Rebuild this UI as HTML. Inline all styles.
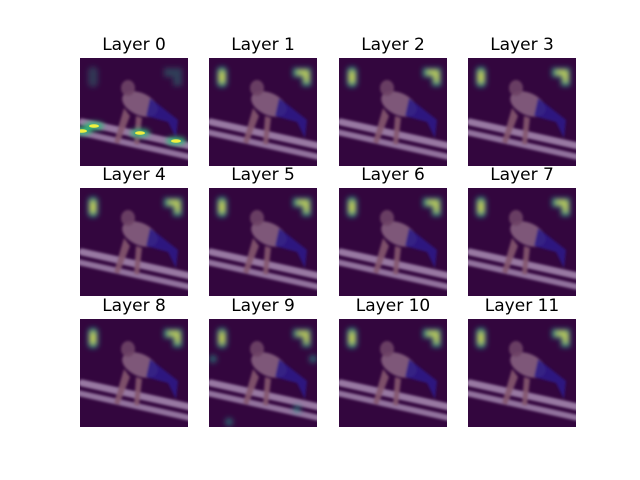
<!DOCTYPE html>
<html><head><meta charset="utf-8"><style>
html,body{margin:0;padding:0;background:#fff;}
svg{display:block;}
text{font-family:"DejaVu Sans","Liberation Sans",sans-serif;}
</style></head><body>
<svg id="fig" width="640" height="480" viewBox="0 0 640 480" xmlns="http://www.w3.org/2000/svg">
<defs>
<filter id="blur" x="-50%" y="-50%" width="200%" height="200%"><feGaussianBlur stdDeviation="2.6"/></filter>
<filter id="blur2" x="-50%" y="-50%" width="200%" height="200%"><feGaussianBlur stdDeviation="1.2"/></filter>
<clipPath id="pc"><rect x="0" y="0" width="108" height="108"/></clipPath>
</defs>
</svg>
<script>
const layers = [0,1,2,3,4,5,6,7,8,9,10,11];
const colX = [80, 209, 339, 468];
const rowY = [58, 188, 319];
const leftHot = [0.35,1,1,1,1,1,1,1,1,0.9,1,1];
const cornerHot = [0.4,1,1,1,1,1,1,1,1,0.9,1,1];
const barHot = [1,0,0,0,0,0,0,0,0,0,0,0];
const extraHot = [0,0,0,0,0,0,0,0,0,0.6,0,0];
const NS = 'http://www.w3.org/2000/svg';
const svg = document.getElementById('fig');
function mk(tag, attrs, parent){const e=document.createElementNS(NS,tag);for(const k in attrs)e.setAttribute(k,attrs[k]);parent.appendChild(e);return e;}
layers.forEach((L,i)=>{
  const x=colX[i%4], y=rowY[Math.floor(i/4)];
  const t=mk('text',{x:x+54,y:y-8,'text-anchor':'middle','font-size':'17',fill:'#000'},svg);
  t.textContent='Layer '+L;
  
  
  const g=mk('g',{transform:`translate(${x},${y})`,'clip-path':'url(#pc)'},svg);
  
  
  mk('rect',{x:0,y:0,width:108,height:108,fill:'#33063e'},g);
  const bg=mk('g',{filter:'url(#blur2)'},g);
  mk('line',{x1:2,y1:64,x2:110,y2:88,stroke:'#a386ad','stroke-width':7,'stroke-linecap':'round',opacity:0.9},bg);
  mk('line',{x1:-2,y1:74,x2:110,y2:99,stroke:'#9c7fa8','stroke-width':6,'stroke-linecap':'round',opacity:0.9},bg);
  mk('ellipse',{cx:60,cy:46,rx:19,ry:11,fill:'#86607f',opacity:0.9,transform:'rotate(25 60 46)'},bg);
  mk('ellipse',{cx:48,cy:30,rx:7,ry:8,fill:'#6e4466',opacity:0.9},bg);
  mk('path',{d:'M70 40 L98 62 L96 80 L88 64 L66 58 Z',fill:'#2c1a86',opacity:0.9},bg);
  mk('path',{d:'M44 50 L34 84 L39 86 L50 58 Z',fill:'#85566f',opacity:0.9},bg);
  mk('path',{d:'M56 58 L54 86 L59 87 L62 60 Z',fill:'#85566f',opacity:0.9},bg);
  const hg=mk('g',{filter:'url(#blur)'},g);
  if(leftHot[i]>0){
    mk('rect',{x:8,y:9,width:10,height:20,rx:4,fill:'#25a085',opacity:0.9*leftHot[i]},hg);
    if(leftHot[i]>0.5) mk('rect',{x:11,y:13,width:4,height:12,rx:2,fill:'#e0e030'},hg);
  }
  if(cornerHot[i]>0){
    mk('path',{d:'M84 10 L102 10 L102 28 L93 28 L93 19 L84 19 Z',fill:'#25a085',opacity:0.9*cornerHot[i]},hg);
    if(cornerHot[i]>0.5) mk('path',{d:'M88 13 L99 13 L99 24 L96 24 L96 16 L88 16 Z',fill:'#e0e030'},hg);
  }
  if(barHot[i]>0){
    [[14,68],[2,73],[60,75],[96,83]].forEach(p=>mk('ellipse',{cx:p[0],cy:p[1],rx:10,ry:4,fill:'#35b779'},hg));
    [[14,68],[60,75],[96,83],[2,73]].forEach(p=>mk('ellipse',{cx:p[0],cy:p[1],rx:5,ry:1.8,fill:'#f0f040'},g));
  }
  if(extraHot[i]>0){
    [[20,103],[4,40],[104,40],[88,90]].forEach(p=>mk('circle',{cx:p[0],cy:p[1],r:4,fill:'#2a9a8a',opacity:extraHot[i]},hg));
  }
});
</script>
</body></html>
